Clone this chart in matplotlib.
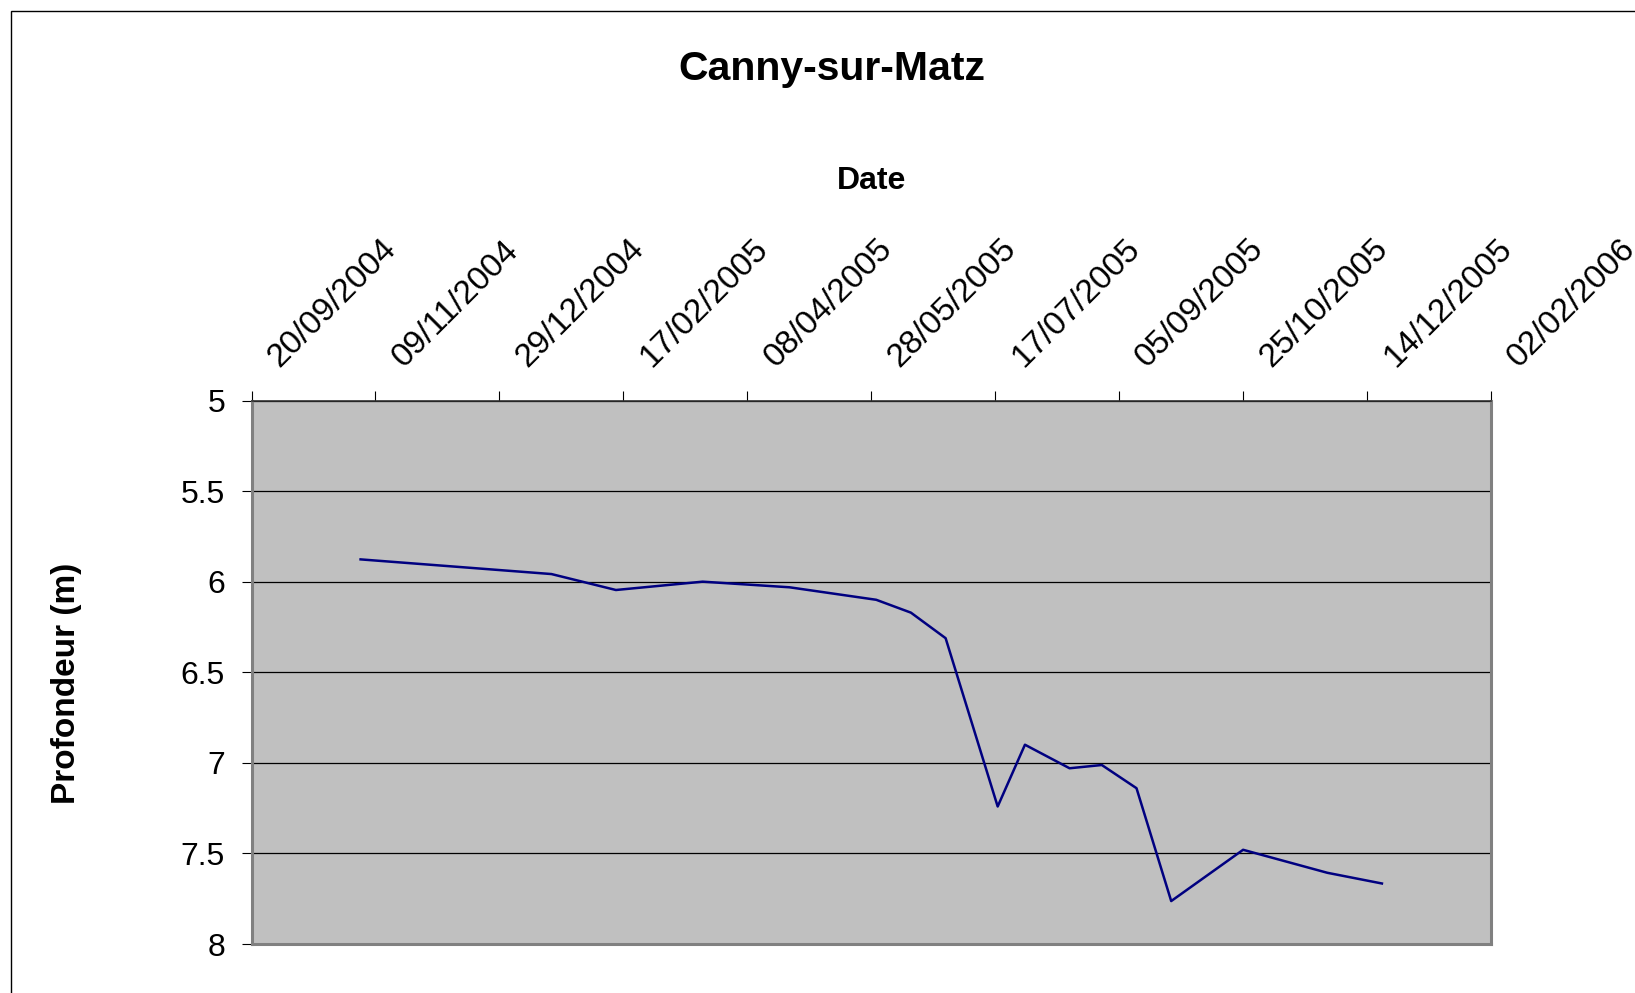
import matplotlib
matplotlib.use('Agg')
import matplotlib.pyplot as plt
import matplotlib.dates as mdates
from matplotlib.patches import Rectangle
import numpy as np
import datetime as dt

plt.rcParams['font.family'] = ['Liberation Sans', 'DejaVu Sans']

# ---- data ----
dates = ['2004-11-03', '2005-01-19', '2005-02-14', '2005-03-21', '2005-04-25',
         '2005-05-30', '2005-06-13', '2005-06-27', '2005-07-18', '2005-07-29',
         '2005-08-16', '2005-08-29', '2005-09-12', '2005-09-26', '2005-10-25',
         '2005-11-28', '2005-12-20']
depth = [5.877, 5.958, 6.046, 6.0, 6.031, 6.10, 6.171, 6.312, 7.241, 6.90,
         7.03, 7.012, 7.14, 7.763, 7.48, 7.607, 7.666]
tick_labels = ['20/09/2004', '09/11/2004', '29/12/2004', '17/02/2005', '08/04/2005',
               '28/05/2005', '17/07/2005', '05/09/2005', '25/10/2005', '14/12/2005',
               '02/02/2006']
y_ticks = [5, 5.5, 6, 6.5, 7, 7.5, 8]
y_tick_labels = ['5', '5.5', '6', '6.5', '7', '7.5', '8']
title = 'Canny-sur-Matz'
x_title = 'Date'
y_title = 'Profondeur (m)'

x = [dt.datetime.strptime(d, '%Y-%m-%d') for d in dates]
tick_dates = [dt.datetime.strptime(t, '%d/%m/%Y') for t in tick_labels]

W, H = 1635, 993
fig = plt.figure(figsize=(W / 100, H / 100), dpi=100)

# outer chart border (cropped on right and bottom)
fig.patches.append(Rectangle((11.0 / W, -0.5), 2.0, 1.5 - 10.5 / H,
                             transform=fig.transFigure, fill=False,
                             ec='black', lw=1.0, zorder=0))

left, right, top, bottom = 251.5, 1491.0, 400.5, 944.0
ax = fig.add_axes([left / W, 1 - bottom / H, (right - left) / W, (bottom - top) / H])
ax.set_facecolor('#C0C0C0')

ax.plot(x, depth, color='#000080', lw=1.8, zorder=3)

ax.set_ylim(8, 5)
ax.set_yticks(y_ticks)
ax.set_yticklabels(y_tick_labels, fontsize=23)
ax.yaxis.grid(True, color='black', lw=0.9, zorder=1)
ax.set_axisbelow(True)

ax.set_xlim(tick_dates[0], tick_dates[-1])
ax.set_xticks(tick_dates)
ax.set_xticklabels([])
ax.xaxis.tick_top()

ax.tick_params(axis='y', direction='out', length=7.5, width=0.8, pad=11.5, colors='black')
ax.tick_params(axis='x', direction='out', length=7.5, width=0.8, top=True, bottom=False)

for s in ['left', 'right', 'bottom']:
    ax.spines[s].set_color('#808080')
    ax.spines[s].set_linewidth(2.2)
ax.spines['top'].set_color('#303030')
ax.spines['top'].set_linewidth(1.2)

for d, lab in zip(tick_dates, tick_labels):
    ax.annotate(lab, xy=(d, 1.0), xycoords=('data', 'axes fraction'),
                xytext=(28, 32), textcoords='offset pixels',
                rotation=45, rotation_mode='anchor', ha='left', va='baseline',
                fontsize=24, annotation_clip=False)

fig.text(832 / W, 1 - 69 / H, title, ha='center', va='center',
         fontsize=29.5, fontweight='bold')
fig.text(872 / W, 1 - 181 / H, x_title, ha='center', va='center',
         fontsize=23, fontweight='bold')
fig.text(67 / W, 1 - 683 / H, y_title, ha='center', va='center',
         rotation=90, fontsize=24, fontweight='bold')

fig.savefig('out.png', dpi=100, facecolor='white')
